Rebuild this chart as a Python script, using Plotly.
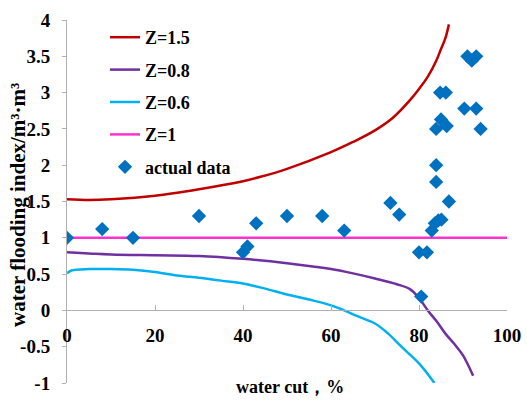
import plotly.graph_objects as go

# Z=1.5 curve
z15_x = [0, 5, 10, 20, 30, 40, 44, 50, 60, 65, 70, 74, 78, 80, 82, 84, 85, 86, 86.8]
z15_y = [1.53, 1.52, 1.53, 1.58, 1.67, 1.78, 1.84, 1.95, 2.18, 2.32, 2.48, 2.65, 2.9, 3.05, 3.22, 3.45, 3.6, 3.75, 3.94]
# Z=0.8 curve
z08_x = [0, 10, 20, 30, 40, 50, 60, 65, 70, 75, 78, 80, 82, 84, 86, 88, 90, 92.3]
z08_y = [0.80, 0.77, 0.76, 0.75, 0.71, 0.65, 0.57, 0.51, 0.44, 0.36, 0.29, 0.17, 0.0, -0.15, -0.32, -0.46, -0.62, -0.9]
# Z=0.6 curve
z06_x = [0, 1, 5, 10, 15, 20, 25, 30, 35, 40, 45, 50, 55, 60, 63, 66, 70, 73, 76, 80, 83.5]
z06_y = [0.51, 0.55, 0.57, 0.57, 0.56, 0.53, 0.48, 0.45, 0.41, 0.37, 0.30, 0.22, 0.15, 0.07, 0.0, -0.08, -0.18, -0.32, -0.5, -0.73, -1.0]
# Z=1 line
z1_x = [0, 100]
z1_y = [1, 1]
# actual data
act_x = [0, 8, 15, 30, 40, 41, 43, 50, 58, 63, 73.5, 75.5, 80, 81.8, 80.5, 82.9, 83.6, 84.4, 85.1, 86.8,
         83.9, 83.9, 83.9, 85, 86.3, 84.8, 86.1, 90.3, 93, 94, 91, 93, 92]
act_y = [1.0, 1.12, 1.0, 1.3, 0.8, 0.88, 1.2, 1.3, 1.3, 1.1, 1.48, 1.32, 0.8, 0.8, 0.19, 1.1, 1.2, 1.24, 1.25, 1.5,
         1.77, 2.0, 2.5, 2.63, 2.54, 3.0, 3.0, 2.78, 2.78, 2.5, 3.5, 3.5, 3.44]

x_ticks = [0, 20, 40, 60, 80, 100]
y_ticks = [-1, -0.5, 0, 0.5, 1, 1.5, 2, 2.5, 3, 3.5, 4]
y_ticktext = ["-1", "-0.5", "0", "0.5", "1", "1.5", "2", "2.5", "3", "3.5", "4"]

FONT = "Liberation Serif"
TICKFONT = dict(family=FONT, size=19, color="black", weight="bold")
fig = go.Figure()
fig.add_trace(go.Scatter(x=z15_x, y=z15_y, mode="lines", name="Z=1.5", legendgroup="a",
                         line=dict(color="#C00000", width=2.5, shape="spline")))
fig.add_trace(go.Scatter(x=z08_x, y=z08_y, mode="lines", name="Z=0.8", legendgroup="b",
                         line=dict(color="#7030A0", width=2.5, shape="spline")))
fig.add_trace(go.Scatter(x=z06_x, y=z06_y, mode="lines", name="Z=0.6", legendgroup="c",
                         line=dict(color="#00B0F0", width=2.5, shape="spline")))
fig.add_trace(go.Scatter(x=z1_x, y=z1_y, mode="lines", name="Z=1", legendgroup="d",
                         line=dict(color="#FF33CC", width=2.5)))
fig.add_trace(go.Scatter(x=act_x, y=act_y, mode="markers", name="actual data", legendgroup="e",
                         marker=dict(symbol="diamond", size=11, color="#0070C0")))

fig.update_layout(
    width=527, height=400,
    margin=dict(l=67, r=20, t=20, b=17, autoexpand=False),
    plot_bgcolor="white", paper_bgcolor="white",
    font=dict(family=FONT, size=18, color="black"),
    showlegend=True,
    legend=dict(x=(105 - 67) / 440, y=(383 - 19) / 363, xanchor="left", yanchor="top",
                bgcolor="rgba(0,0,0,0)", tracegroupgap=6,
                font=dict(family=FONT, size=18, color="black", weight="bold")),
    xaxis=dict(range=[0, 100], tickvals=x_ticks, anchor="free", position=0.2, automargin=False,
               showline=True, linecolor="#B0B0B0", linewidth=1, showgrid=False, zeroline=False,
               ticks="inside", ticklen=5, tickcolor="#B0B0B0", ticklabelstandoff=8,
               tickfont=TICKFONT),
    yaxis=dict(range=[-1, 4], tickvals=y_ticks, ticktext=y_ticktext, automargin=False,
               showline=True, linecolor="#B0B0B0", linewidth=1, showgrid=False, zeroline=False,
               ticks="outside", ticklen=4, tickcolor="#B0B0B0", ticklabelstandoff=8,
               tickfont=TICKFONT),
    annotations=[
        dict(text="water flooding index/m³·m³", textangle=-90, xref="paper", yref="paper",
             x=(18 - 67) / 440, y=(383 - 205) / 363, xanchor="center", yanchor="middle",
             showarrow=False, font=dict(family=FONT, size=21, color="black", weight="bold")),
        dict(text="water cut，%", xref="paper", yref="paper",
             x=(290 - 67) / 440, y=(383 - 399) / 363, xanchor="center", yanchor="bottom",
             showarrow=False, font=dict(family=FONT, size=18, color="black", weight="bold")),
    ],
)
fig.write_html("out.html")
